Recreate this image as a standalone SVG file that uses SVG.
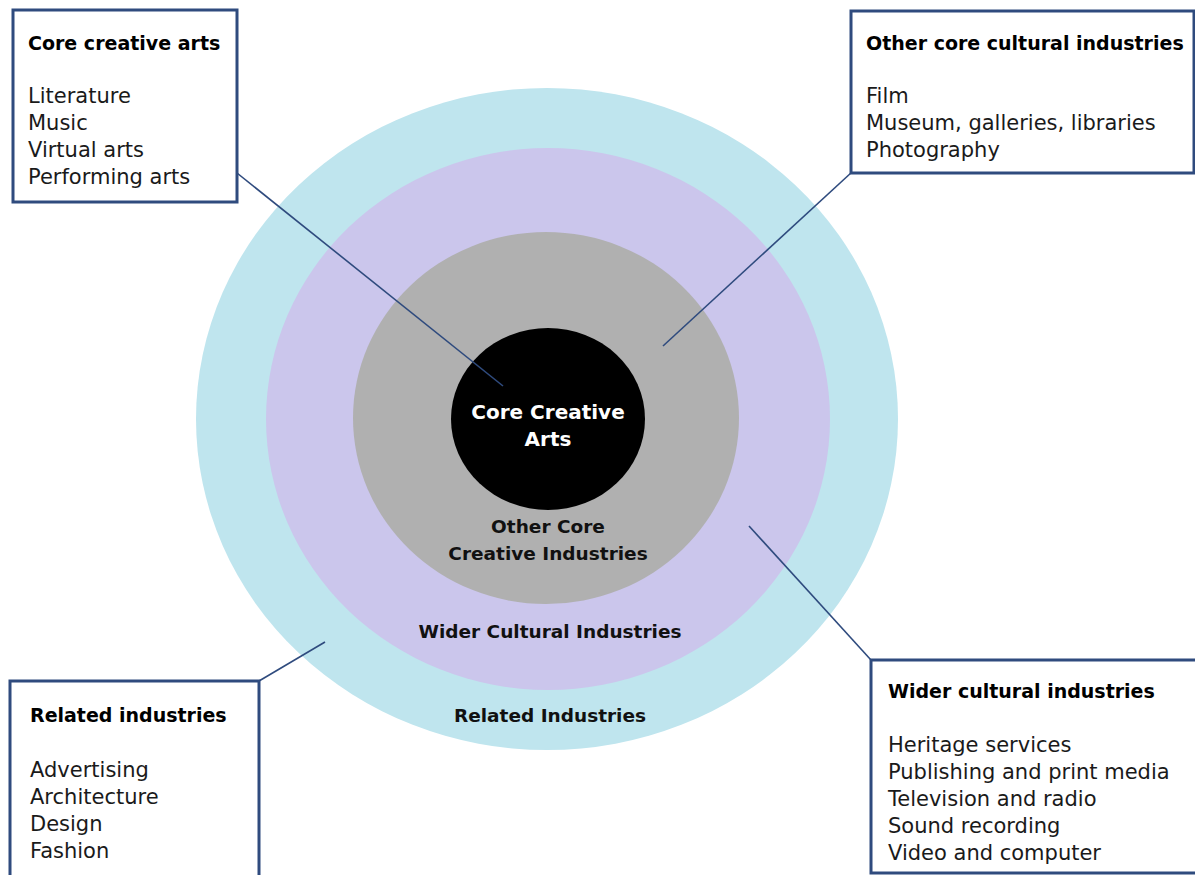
<svg xmlns="http://www.w3.org/2000/svg" width="1195" height="875" viewBox="0 0 1195 875">
  <style>
    .box { fill: #ffffff; stroke: #2f4b7e; stroke-width: 3; }
    .link { stroke: #2f4b7e; stroke-width: 1.6; fill: none; }
    .title { font-family: "DejaVu Sans", sans-serif; font-weight: bold; font-size: 19px; fill: #000000; }
    .item { font-family: "DejaVu Sans", sans-serif; font-size: 21px; fill: #1a1a1a; }
    .ring { font-family: "DejaVu Sans", sans-serif; font-weight: bold; font-size: 18.5px; fill: #111111; text-anchor: middle; }
    .core { font-family: "DejaVu Sans", sans-serif; font-weight: bold; font-size: 20px; fill: #ffffff; text-anchor: middle; }
  </style>

  <!-- concentric rings -->
  <g id="rings">
    <ellipse id="ring-related" cx="547" cy="419" rx="351" ry="331" fill="#bfe5ee"/>
    <ellipse id="ring-wider" cx="548" cy="419" rx="282" ry="271" fill="#cbc6ec"/>
    <ellipse id="ring-other" cx="546" cy="418" rx="193" ry="186" fill="#b0b0b0"/>
    <ellipse id="ring-core" cx="548" cy="419" rx="97" ry="91" fill="#000000"/>
    <text class="core" x="548" y="419">Core Creative</text>
    <text class="core" x="548" y="446">Arts</text>
    <text class="ring" x="548" y="533">Other Core</text>
    <text class="ring" x="548" y="560">Creative Industries</text>
    <text class="ring" x="550" y="638">Wider Cultural Industries</text>
    <text class="ring" x="550" y="722">Related Industries</text>
  </g>

  <!-- connectors from boxes to rings -->
  <g id="connectors">
    <line class="link" x1="237" y1="173" x2="503" y2="386"/>
    <line class="link" x1="852" y1="172" x2="663" y2="346"/>
    <line class="link" x1="749" y1="526" x2="871" y2="660"/>
    <line class="link" x1="259" y1="681" x2="325" y2="642"/>
  </g>

  <g id="box-core-creative-arts">
    <rect class="box" x="13" y="10" width="224" height="192"/>
    <text class="title" x="28" y="50">Core creative arts</text>
    <text class="item" x="28" y="103">Literature</text>
    <text class="item" x="28" y="130">Music</text>
    <text class="item" x="28" y="157">Virtual arts</text>
    <text class="item" x="28" y="184">Performing arts</text>
  </g>

  <g id="box-other-core">
    <rect class="box" x="851" y="11" width="343" height="162"/>
    <text class="title" x="866" y="50">Other core cultural industries</text>
    <text class="item" x="866" y="103">Film</text>
    <text class="item" x="866" y="130">Museum, galleries, libraries</text>
    <text class="item" x="866" y="157">Photography</text>
  </g>

  <g id="box-related">
    <rect class="box" x="10" y="681" width="249" height="200"/>
    <text class="title" x="30" y="722">Related industries</text>
    <text class="item" x="30" y="777">Advertising</text>
    <text class="item" x="30" y="804">Architecture</text>
    <text class="item" x="30" y="831">Design</text>
    <text class="item" x="30" y="858">Fashion</text>
  </g>

  <g id="box-wider">
    <rect class="box" x="871" y="660" width="330" height="213"/>
    <text class="title" x="888" y="698">Wider cultural industries</text>
    <text class="item" x="888" y="752">Heritage services</text>
    <text class="item" x="888" y="779">Publishing and print media</text>
    <text class="item" x="888" y="806">Television and radio</text>
    <text class="item" x="888" y="833">Sound recording</text>
    <text class="item" x="888" y="860">Video and computer</text>
  </g>
</svg>
